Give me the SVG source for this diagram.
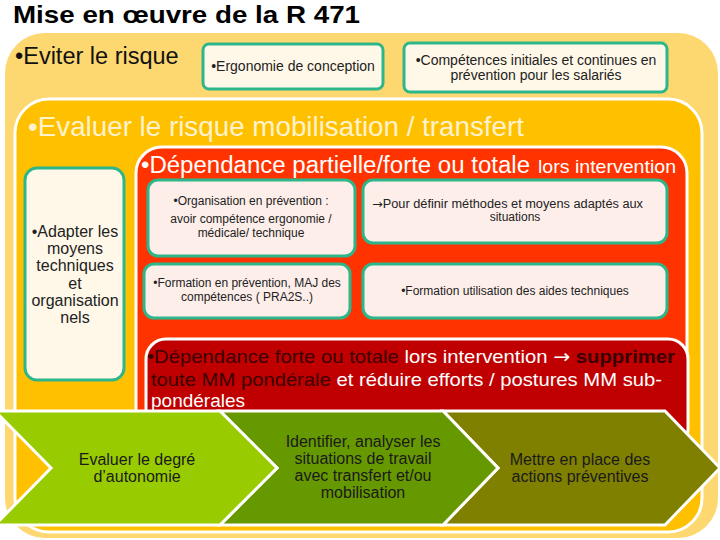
<svg xmlns="http://www.w3.org/2000/svg" width="720" height="540" viewBox="0 0 720 540">
<style>
text{font-family:"Liberation Sans",Arial,sans-serif}
.cream{fill:#FFF8E8;stroke:#2DB68A;stroke-width:3}
.pink{fill:#FDEEEA;stroke:#2DB68A;stroke-width:3}
.sm{font-size:12px;fill:#222}
.md{font-size:14px;fill:#222}
.chev{stroke:#FFFFFF;stroke-width:3;stroke-linejoin:miter}
.ct{font-size:16px;fill:#1a1a1a;text-anchor:middle}
.w{fill:#FFFFFF}
.d{fill:#3A0000}
.arr{font-family:"DejaVu Sans",sans-serif}
</style>
<rect width="720" height="540" fill="#FFFFFF"/>
<text x="13" y="23" font-size="24" font-weight="bold" fill="#000" textLength="347" lengthAdjust="spacingAndGlyphs">Mise en œuvre de la R 471</text>

<g id="level-eviter">
<rect x="5" y="33" width="713" height="505" rx="40" fill="#FDD870"/>
<text x="15" y="64" font-size="23.5" fill="#111">•Eviter le risque</text>
</g>
<g id="ergonomie">
<rect class="cream" x="203" y="44" width="180" height="45" rx="6"/>
<text class="md" x="293" y="71" text-anchor="middle">•Ergonomie de conception</text>
</g>
<g id="competences">
<rect class="cream" x="404" y="43" width="263" height="49" rx="6"/>
<text class="md" text-anchor="middle"><tspan x="536" y="65">•Compétences initiales et continues en</tspan><tspan x="536" y="80">prévention pour les salariés</tspan></text>
</g>

<g id="level-evaluer">
<rect x="15" y="99" width="687" height="433" rx="34" fill="#FFC000" stroke="#FFFFFF" stroke-width="3"/>
<text x="28" y="136" font-size="27.5" fill="#FFF2CC" textLength="496" lengthAdjust="spacingAndGlyphs">•Evaluer le risque mobilisation / transfert</text>
</g>

<g id="adapter">
<rect class="cream" x="25" y="168" width="99" height="212" rx="12"/>
<text font-size="16" fill="#222" text-anchor="middle"><tspan x="75" y="237">•Adapter les</tspan><tspan x="75" y="254">moyens</tspan><tspan x="75" y="271">techniques</tspan><tspan x="75" y="289">et</tspan><tspan x="75" y="306">organisation</tspan><tspan x="75" y="323">nels</tspan></text>
</g>

<g id="level-dependance">
<rect x="136" y="147" width="551" height="310" rx="26" fill="#FF3300" stroke="#FFFFFF" stroke-width="3"/>
<text x="141" y="173" font-size="23" fill="#FFFFFF" textLength="389" lengthAdjust="spacingAndGlyphs">•Dépendance partielle/forte ou totale</text>
<text x="538" y="173" font-size="19" fill="#FFFFFF" textLength="138" lengthAdjust="spacingAndGlyphs">lors intervention</text>
</g>
<g id="organisation">
<rect class="pink" x="148" y="180" width="207" height="76" rx="10"/>
<text class="sm" text-anchor="middle"><tspan x="251" y="205">•Organisation en prévention :</tspan><tspan x="251" y="223">avoir compétence ergonomie /</tspan><tspan x="251" y="237">médicale/ technique</tspan></text>
</g>
<g id="pour-definir">
<rect class="pink" x="363" y="180" width="304" height="63" rx="10"/>
<text class="sm" x="372" y="208" textLength="271" lengthAdjust="spacingAndGlyphs"><tspan class="arr">→</tspan>Pour définir méthodes et moyens adaptés aux</text>
<text class="sm" x="515" y="221" text-anchor="middle">situations</text>
</g>
<g id="formation-prevention">
<rect class="pink" x="144" y="264" width="206" height="54" rx="10"/>
<text class="sm" text-anchor="middle"><tspan x="247" y="287">•Formation en prévention, MAJ des</tspan><tspan x="247" y="301">compétences ( PRA2S..)</tspan></text>
</g>
<g id="formation-aides">
<rect class="pink" x="363" y="264" width="304" height="54" rx="10"/>
<text class="sm" x="515" y="295" text-anchor="middle">•Formation utilisation des aides techniques</text>
</g>

<g id="level-forte">
<rect x="146" y="339" width="542" height="110" rx="20" fill="#C00000" stroke="#FFFFFF" stroke-width="3"/>
<text font-size="19" x="147" y="363" textLength="528" lengthAdjust="spacingAndGlyphs"><tspan class="d">•Dépendance forte ou totale </tspan><tspan class="w">lors intervention </tspan><tspan class="w arr">→</tspan><tspan class="w"> </tspan><tspan class="d" font-weight="bold">supprimer</tspan></text>
<text font-size="19" x="151" y="386" textLength="511" lengthAdjust="spacingAndGlyphs"><tspan class="d">toute MM pondérale </tspan><tspan class="w">et réduire efforts / postures MM sub-</tspan></text>
<text font-size="19" x="151" y="407" class="w">pondérales</text>
</g>

<g id="connectors">
<polygon class="chev" points="443,411 665,411 720,468 665,525 443,525 498,468" fill="#808000"/>
<polygon class="chev" points="220,411 443,411 498,468 443,525 220,525 277,468" fill="#669900"/>
<polygon class="chev" points="-5,411 220,411 277,468 220,525 -5,525 51,468" fill="#99CC00"/>
</g>
<g id="step-evaluer">
<text class="ct"><tspan x="137" y="465">Evaluer le degré</tspan><tspan x="137" y="482">d’autonomie</tspan></text>
</g>
<g id="step-identifier">
<text class="ct"><tspan x="363" y="447">Identifier, analyser les</tspan><tspan x="363" y="464">situations de travail</tspan><tspan x="363" y="481">avec transfert et/ou</tspan><tspan x="363" y="498">mobilisation</tspan></text>
</g>
<g id="step-mettre">
<text class="ct"><tspan x="580" y="465">Mettre en place des</tspan><tspan x="580" y="482">actions préventives</tspan></text>
</g>
</svg>
